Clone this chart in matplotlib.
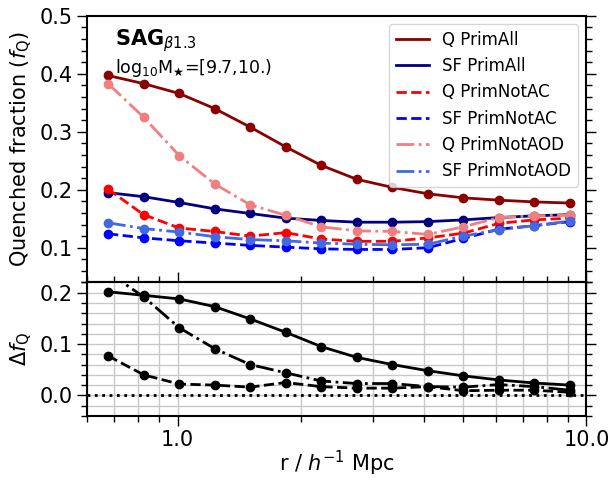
import matplotlib
matplotlib.use('Agg')
import matplotlib.pyplot as plt
import numpy as np
from matplotlib.ticker import FormatStrFormatter, NullFormatter, MultipleLocator

# bin centres, r / h^-1 Mpc
r = [0.676, 0.826, 1.009, 1.232, 1.505, 1.838, 2.246, 2.744, 3.352, 4.094, 5.0, 6.108, 7.46, 9.11]

# quenched fractions
q_all = [0.397, 0.383, 0.366, 0.340, 0.308, 0.274, 0.242, 0.218, 0.204, 0.193, 0.186, 0.182, 0.179, 0.177]
sf_all = [0.195, 0.188, 0.178, 0.167, 0.159, 0.151, 0.147, 0.144, 0.144, 0.145, 0.148, 0.152, 0.155, 0.157]
q_notac = [0.201, 0.157, 0.134, 0.128, 0.120, 0.126, 0.115, 0.111, 0.111, 0.117, 0.125, 0.142, 0.148, 0.151]
sf_notac = [0.124, 0.117, 0.112, 0.108, 0.104, 0.101, 0.098, 0.097, 0.097, 0.100, 0.116, 0.132, 0.138, 0.145]
q_notaod = [0.383, 0.325, 0.259, 0.210, 0.174, 0.156, 0.136, 0.129, 0.128, 0.123, 0.136, 0.152, 0.155, 0.156]
sf_notaod = [0.143, 0.133, 0.127, 0.119, 0.114, 0.112, 0.108, 0.106, 0.105, 0.106, 0.120, 0.131, 0.138, 0.146]

fig, (ax, ax2) = plt.subplots(2, 1, sharex=True, figsize=(6.16, 4.78), dpi=100,
                              gridspec_kw={'height_ratios': [2, 1], 'hspace': 0})
fig.subplots_adjust(left=0.141, right=0.952, top=0.967, bottom=0.13)

kw = dict(marker='o', ms=6, lw=2)
ax.plot(r, q_all, '-', color='darkred', label='Q PrimAll', **kw)
ax.plot(r, sf_all, '-', color='navy', label='SF PrimAll', **kw)
ax.plot(r, q_notac, '--', color='red', label='Q PrimNotAC', **kw)
ax.plot(r, sf_notac, '--', color='blue', label='SF PrimNotAC', **kw)
ax.plot(r, q_notaod, '-.', color='lightcoral', label='Q PrimNotAOD', **kw)
ax.plot(r, sf_notaod, '-.', color='royalblue', label='SF PrimNotAOD', **kw)

# handles without markers for the legend
h = [plt.Line2D([], [], color=l.get_color(), ls=l.get_linestyle(), lw=2) for l in ax.get_lines()]
ax.legend(h, [l.get_label() for l in ax.get_lines()], loc='upper right', fontsize=12)

ax.text(0.056, 0.89, r'SAG$_{\beta1.3}$', transform=ax.transAxes, fontsize=15, fontweight='bold')
ax.text(0.056, 0.786, r'log$_{10}$M$_{\bigstar}$=[9.7,10.)', transform=ax.transAxes, fontsize=12.5)

ax.set_xscale('log')
ax.set_xlim(0.6, 10)
ax.set_ylim(0.04, 0.5)
ax.yaxis.set_major_locator(MultipleLocator(0.1))
ax.yaxis.set_minor_locator(MultipleLocator(0.02))
ax.set_ylabel(r'Quenched fraction ($f_{\rm Q}$)', fontsize=15)

# differences Q - SF
d_all = np.array(q_all) - np.array(sf_all)
d_notac = np.array(q_notac) - np.array(sf_notac)
d_notaod = np.array(q_notaod) - np.array(sf_notaod)
ax2.plot(r, d_all, '-', color='k', **kw)
ax2.plot(r, d_notac, '--', color='k', **kw)
ax2.plot(r, d_notaod, '-.', color='k', **kw)
ax2.axhline(0, color='k', ls=':', lw=2)
ax2.set_ylim(-0.04, 0.22)
ax2.yaxis.set_major_locator(MultipleLocator(0.1))
ax2.yaxis.set_minor_locator(MultipleLocator(0.02))
ax2.grid(True, which='both', color='#c8c8c8', lw=1)
ax2.set_axisbelow(True)
ax2.set_ylabel(r'$\Delta f_{\rm Q}$', fontsize=15)
ax2.set_xlabel(r'r / $h^{-1}$ Mpc', fontsize=15, labelpad=-1)
ax2.xaxis.set_major_formatter(FormatStrFormatter('%.1f'))
ax2.xaxis.set_minor_formatter(NullFormatter())

for a in (ax, ax2):
    a.tick_params(which='both', direction='out', right=True, labelsize=15, width=1)
    a.tick_params(which='major', length=7)
    a.tick_params(which='minor', length=4)
    for s in a.spines.values():
        s.set_linewidth(1.5)
ax2.tick_params(which='both', top=True)

fig.savefig('out.png', dpi=100)
